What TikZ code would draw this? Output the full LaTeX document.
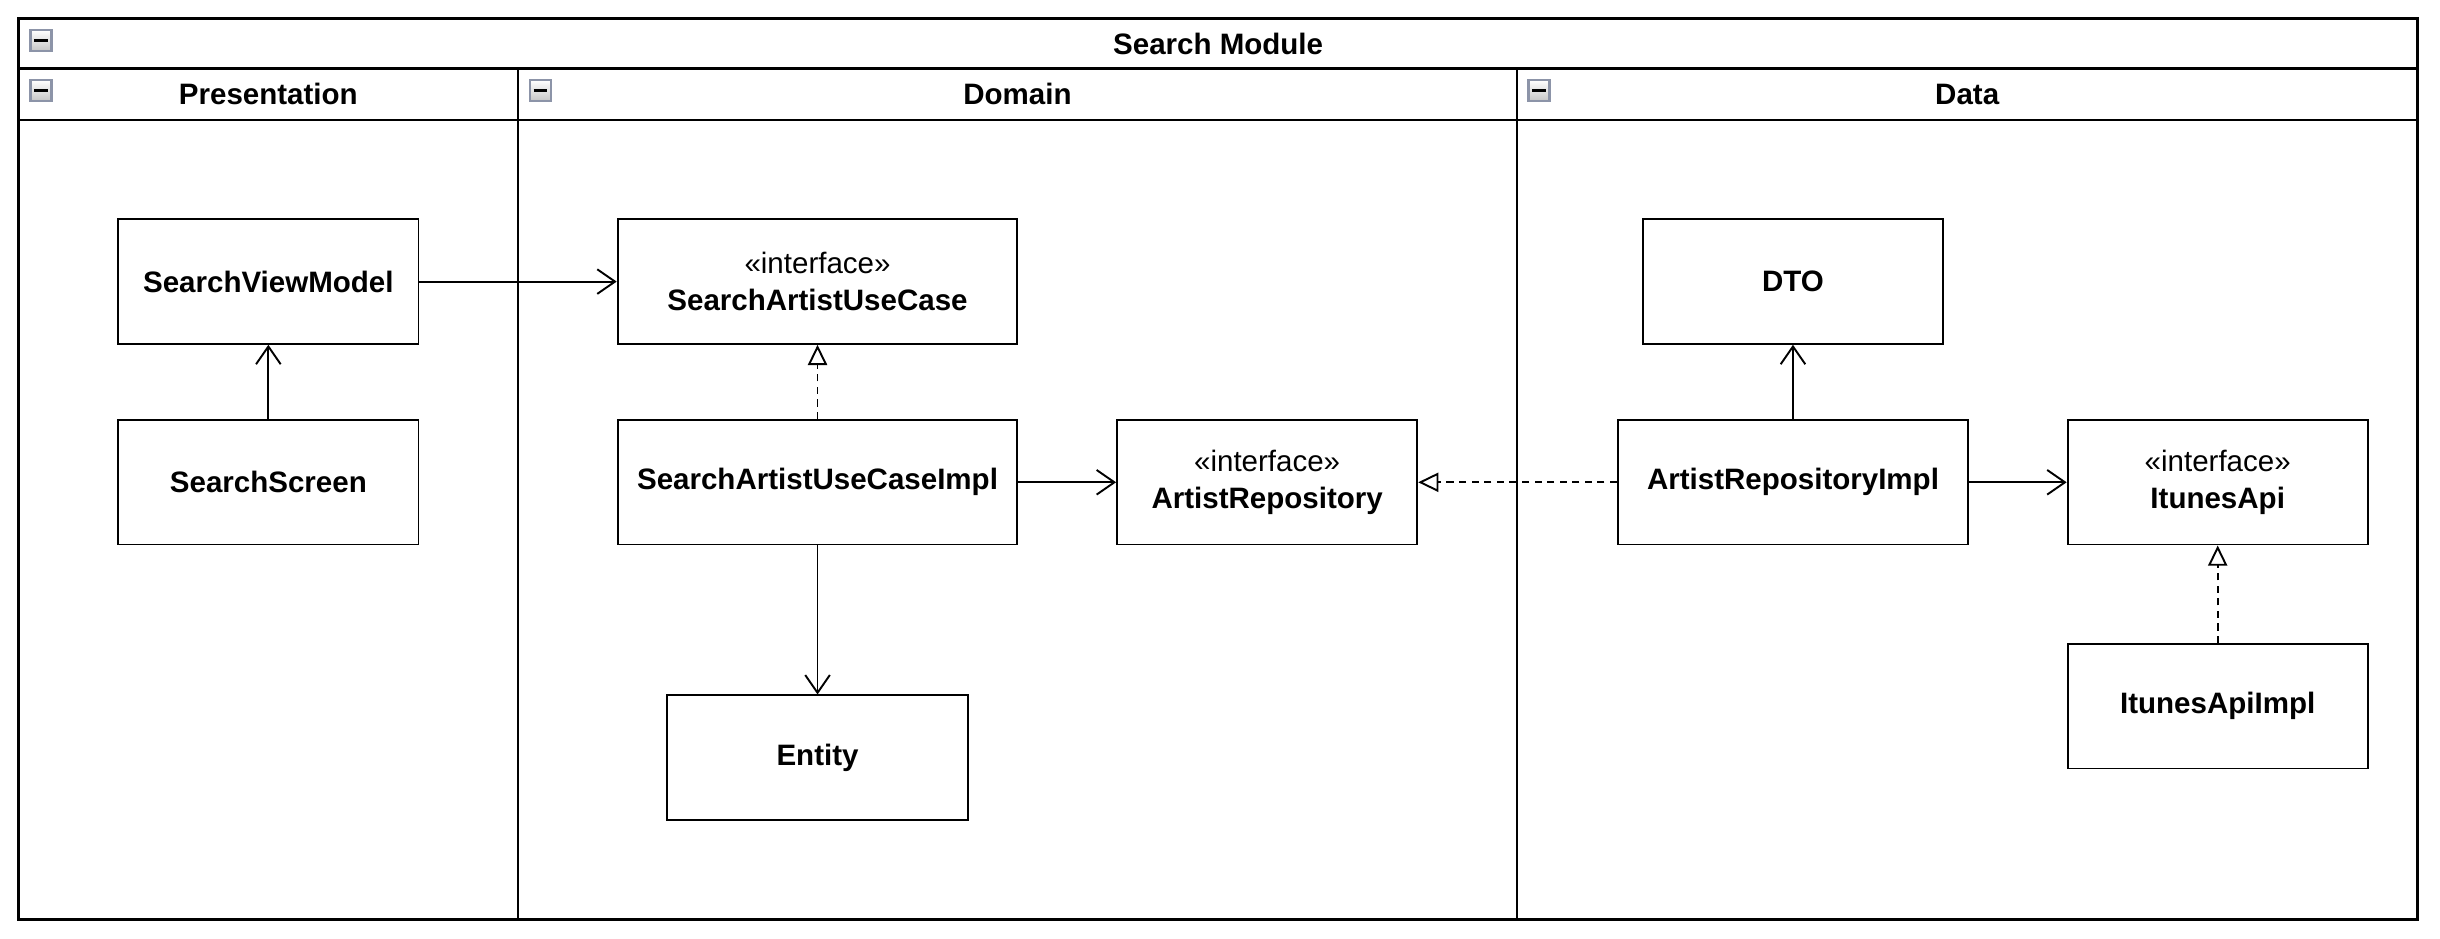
\documentclass[tikz,border=0pt]{standalone}
\usepackage{fontspec}
\setmainfont{Liberation Sans}
\usetikzlibrary{arrows.meta}
\definecolor{iconframe}{RGB}{140,148,168}

\begin{document}
\begin{tikzpicture}[x=0.02cm, y=-0.02cm,
	font=\fontsize{10.8}{13.4}\selectfont,
	lane/.style={draw, line width=0.9pt},
	title/.style={font=\fontsize{10.8}{13.4}\selectfont\bfseries},
	class/.style={draw, line width=0.7pt, minimum width=3.86cm, minimum height=1.6cm,
		align=center, font=\fontsize{10.8}{13.4}\selectfont\bfseries},
	wideclass/.style={class, minimum width=5.14cm},
	icon/.style={draw=iconframe, top color=white, bottom color=gray!45,
		minimum size=0.27cm, inner sep=0pt, line width=0.9pt},
	uses/.style={draw, line width=0.7pt, -{Straight Barb[length=6.5pt, width=9pt]}},
	realizes/.style={draw, line width=0.7pt, dash pattern=on 2.6pt off 2pt,
		-{Triangle[open, length=7.4pt, width=7pt]}}]
	\useasboundingbox (0,0) rectangle (1568.4,603);
	% module frame and lanes
	\draw[lane] (12,12) rectangle (1554,591);
	\draw[lane] (12,44) -- (1554,44);
	\draw[lane] (12,77) -- (1554,77);
	\draw[lane] (333,44) -- (333,591);
	\draw[lane] (975,44) -- (975,591);
	\node[title] (moduletitle) at (783,28) {Search Module};
	\node[title] (presentationtitle) at (172.5,60.5) {Presentation};
	\node[title] (domaintitle) at (654,60.5) {Domain};
	\node[title] (datatitle) at (1264.5,60.5) {Data};
	\node[icon] (moduleicon) at (26.3,26) {\rule{0.17cm}{0.04cm}};
	\node[icon] (presentationicon) at (26.3,58.2) {\rule{0.17cm}{0.04cm}};
	\node[icon] (domainicon) at (347.3,58.2) {\rule{0.17cm}{0.04cm}};
	\node[icon] (dataicon) at (989.3,58.2) {\rule{0.17cm}{0.04cm}};
	% presentation
	\node[class] (viewmodel) at (172.5,181) {SearchViewModel};
	\node[class] (screen) at (172.5,310) {SearchScreen};
	% domain
	\node[wideclass] (usecase) at (525.5,181) {{\mdseries «interface»}\\SearchArtistUseCase};
	\node[wideclass] (usecaseimpl) at (525.5,310) {SearchArtistUseCaseImpl};
	\node[class] (repo) at (814.5,310) {{\mdseries «interface»}\\ArtistRepository};
	\node[class] (entity) at (525.5,487) {Entity};
	% data
	\node[class] (dto) at (1152.5,181) {DTO};
	\node[class, minimum width=4.5cm] (repoimpl) at (1152.5,310) {ArtistRepositoryImpl};
	\node[class] (api) at (1425.5,310) {{\mdseries «interface»}\\ItunesApi};
	\node[class] (apiimpl) at (1425.5,454) {ItunesApiImpl};
	% connectors
	\draw[uses] (viewmodel) -- (usecase);
	\draw[uses] (screen) -- (viewmodel);
	\draw[realizes] (usecaseimpl) -- (usecase);
	\draw[uses] (usecaseimpl) -- (repo);
	\draw[uses] (usecaseimpl) -- (entity);
	\draw[realizes] (repoimpl) -- (repo);
	\draw[uses] (repoimpl) -- (dto);
	\draw[uses] (repoimpl) -- (api);
	\draw[realizes] (apiimpl) -- (api);
\end{tikzpicture}
\end{document}
